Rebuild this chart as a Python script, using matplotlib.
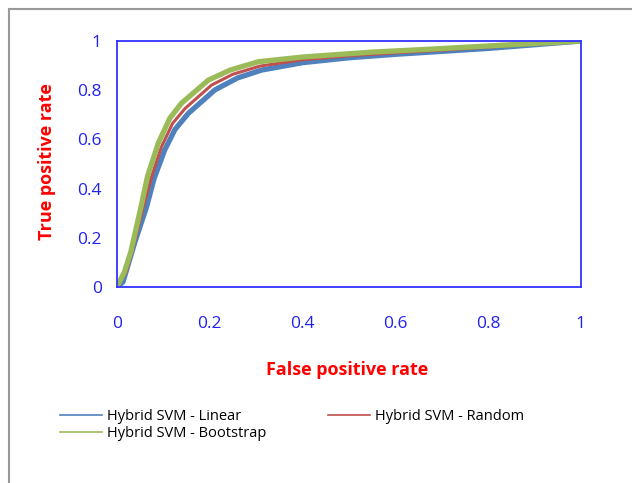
import matplotlib.pyplot as plt
from matplotlib.lines import Line2D

# ROC curves
fpr_linear = [0, 0.013, 0.039, 0.064, 0.08, 0.103, 0.125, 0.154, 0.211, 0.26, 0.312, 0.4, 0.5, 0.6, 0.7, 0.8, 0.9, 1.0]
tpr_linear = [0, 0.02, 0.184, 0.326, 0.44, 0.557, 0.64, 0.706, 0.801, 0.85, 0.882, 0.912, 0.932, 0.946, 0.958, 0.97, 0.985, 1.0]

fpr_random = [0, 0.02, 0.035, 0.057, 0.075, 0.096, 0.12, 0.147, 0.204, 0.25, 0.308, 0.4, 0.5, 0.6, 0.7, 0.8, 0.9, 1.0]
tpr_random = [0, 0.06, 0.16, 0.326, 0.45, 0.57, 0.665, 0.726, 0.821, 0.865, 0.898, 0.924, 0.94, 0.952, 0.963, 0.975, 0.988, 1.0]

fpr_boot = [0, 0.016, 0.03, 0.052, 0.066, 0.089, 0.114, 0.139, 0.197, 0.244, 0.305, 0.4, 0.459, 0.55, 0.675, 0.8, 0.9, 1.0]
tpr_boot = [0, 0.06, 0.143, 0.326, 0.45, 0.584, 0.686, 0.747, 0.841, 0.882, 0.916, 0.935, 0.943, 0.955, 0.967, 0.98, 0.99, 1.0]

labels = ['Hybrid SVM - Linear', 'Hybrid SVM - Random', 'Hybrid SVM - Bootstrap']
colors = ['#4F81BD', '#C0504D', '#9BBB59']
ticks = [0, 0.2, 0.4, 0.6, 0.8, 1]
tick_labels = ['0', '0.2', '0.4', '0.6', '0.8', '1']

plt.rcParams['font.family'] = ['Open Sans', 'DejaVu Sans']

fig = plt.figure(figsize=(6.32, 4.83), dpi=100)
ax = fig.add_axes([0.185, 0.406, 0.734, 0.509])

ax.plot(fpr_linear, tpr_linear, color=colors[0], lw=3.8, solid_joinstyle='round', solid_capstyle='round')
ax.plot(fpr_random, tpr_random, color=colors[1], lw=2.2, solid_joinstyle='round')
ax.plot(fpr_boot, tpr_boot, color=colors[2], lw=3.8, solid_joinstyle='round', solid_capstyle='round')

ax.set_xlim(0, 1)
ax.set_ylim(0, 1)
ax.set_xticks(ticks)
ax.set_xticklabels(tick_labels)
ax.set_yticks(ticks)
ax.set_yticklabels(tick_labels)
ax.tick_params(axis='x', length=0, pad=21, labelsize=12.5, labelcolor='#2222EE')
ax.tick_params(axis='y', length=0, pad=11, labelsize=12.5, labelcolor='#2222EE')
for s in ax.spines.values():
    s.set_color('#3333FF')
    s.set_linewidth(1.3)

fig.text(0.074, 0.666, 'True positive rate', rotation=90, color='#FF0000',
         fontsize=13, fontweight='bold', ha='center', va='center')
fig.text(0.549, 0.234, 'False positive rate', color='#FF0000',
         fontsize=13, fontweight='bold', ha='center', va='center')

handles = [Line2D([], [], color=c, lw=1.2) for c in colors]
# row-major order: Linear, Random on top row, Bootstrap below
order = [0, 2, 1]
fig.legend([handles[i] for i in order], [labels[i] for i in order],
           ncol=2, loc='upper left', bbox_to_anchor=(0.095, 0.153),
           frameon=False, fontsize=10.5, handlelength=2.9, handletextpad=0.35,
           columnspacing=4.2, labelspacing=0.15, borderaxespad=0, borderpad=0)

# outer gray frame
fig.add_artist(Line2D([0.014, 0.014], [0, 0.982], color='#999999', lw=1.5))
fig.add_artist(Line2D([0.014, 1.0], [0.982, 0.982], color='#999999', lw=1.5))

fig.savefig('out.png', dpi=100)
